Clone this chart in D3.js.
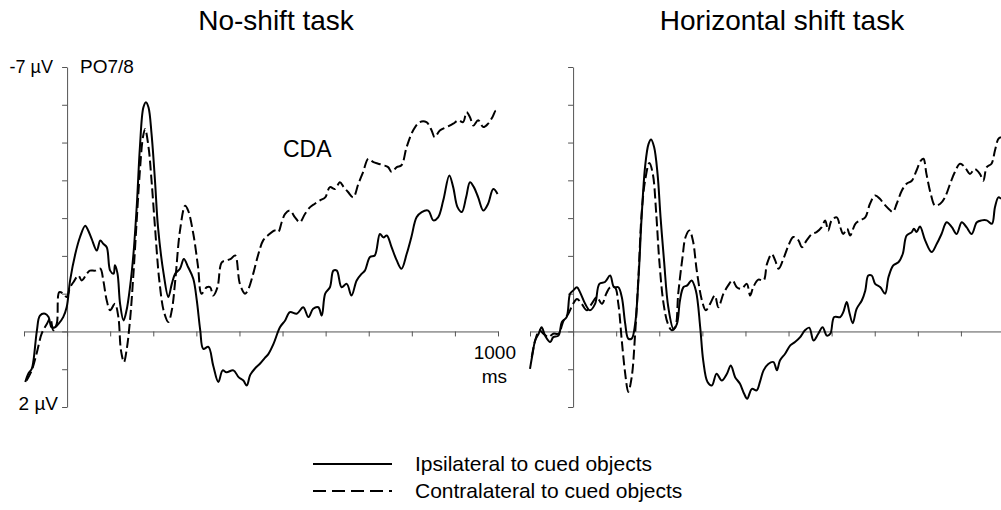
<!DOCTYPE html>
<html>
<head>
<meta charset="utf-8">
<script src="https://cdn.jsdelivr.net/npm/d3@7"></script>
<style>
  html, body { margin: 0; padding: 0; background: #fff; }
  svg { display: block; font-family: "Liberation Sans", Arial, Helvetica, sans-serif; }
  .axis path, .axis line { stroke: #555; stroke-width: 1; }
  .wave { fill: none; stroke: #000; stroke-width: 2; stroke-linejoin: round; }
  .dash { stroke-dasharray: 10 4; }
</style>
</head>
<body>
<svg id="chart" width="1001" height="510"></svg>
<script>
/* ERP waveforms at PO7/8: ipsi vs contra, two tasks. */

const panelTitles = ["No-shift task", "Horizontal shift task"];
const seriesLabels = ["Ipsilateral to cued objects", "Contralateral to cued objects"];
const xTicks = [-100, 0, 100, 200, 300, 400, 500, 600, 700, 800, 900, 1000];
const yTicks = [-7, -6, -5, -4, -3, -2, -1, 0, 1, 2];

// [ms, µV]  (negative plotted up)
const noShiftIpsi = [
  [-97,1.34],[-90,1.12],[-82,0.99],[-78,0.77],[-70,-0.03],[-63,-0.42],[-51,-0.47],[-43,-0.38],
  [-36,-0.11],[-28,-0.11],[-20,-0.2],[-9,-0.38],[-1,-0.64],[7,-1.35],[19,-2.05],[30,-2.5],
  [42,-2.8],[49,-2.67],[57,-2.45],[69,-2.14],[77,-2.41],[84,-2.32],[92,-2.23],[100,-1.61],
  [108,-1.53],[111,-1.75],[117,-1.53],[123,-0.73],[131,-0.29],[138,-0.56],[146,-1.17],
  [154,-2.05],[162,-3.38],[169,-4.88],[177,-5.93],[183,-6.07],[189,-5.93],[196,-5.23],
  [204,-3.99],[211,-2.76],[224,-1.53],[235,-0.91],[243,-1.26],[251,-1.53],[262,-1.66],
  [271,-1.92],[281,-1.7],[293,-1.39],[301,-0.82],[309,-0.03],[316,0.46],[328,0.41],[339,0.9],
  [351,1.34],[361,1.03],[370,1.08],[386,1.03],[398,1.21],[409,1.3],[417,1.43],[425,1.15],
  [436,0.98],[448,0.85],[459,0.7],[467,0.6],[479,0.33],[494,-0.11],[506,-0.29],[517,-0.51],
  [533,-0.47],[548,-0.64],[560,-0.38],[571,-0.6],[583,-0.64],[591,-0.42],[599,-1.0],
  [610,-1.17],[618,-1.61],[626,-1.61],[637,-1.17],[649,-1.26],[660,-0.95],[672,-1.35],
  [684,-1.53],[691,-1.61],[703,-1.97],[714,-2.01],[726,-2.58],[734,-2.49],[742,-2.54],
  [753,-2.23],[765,-1.88],[776,-1.66],[788,-2.05],[799,-2.5],[811,-3.02],[823,-3.16],
  [838,-3.2],[850,-2.94],[861,-3.02],[873,-3.47],[887,-4.13],[896,-3.82],[906,-3.29],
  [916,-3.16],[926,-3.55],[935,-3.95],[944,-3.82],[954,-3.55],[966,-3.2],[977,-3.38],
  [989,-3.77],[999,-3.64]
];

const noShiftContra = [
  [-94,1.3],[-82,1.03],[-70,0.55],[-59,0.06],[-47,-0.2],[-39,-0.34],[-32,-0.03],[-24,-0.2],
  [-18,-1.04],[-9,-1.0],[-1,-0.91],[7,-1.17],[15,-1.31],[26,-1.48],[34,-1.35],[46,-1.53],
  [53,-1.61],[65,-1.61],[77,-1.66],[84,-1.35],[92,-0.82],[100,-0.56],[111,-0.73],[119,-0.38],
  [125,0.5],[132,0.81],[138,0.5],[146,-0.29],[154,-1.53],[162,-3.02],[169,-4.26],[176,-5.14],
  [181,-5.36],[189,-4.88],[196,-3.99],[204,-2.76],[214,-1.35],[225,-0.51],[235,-0.25],
  [243,-0.56],[251,-1.35],[262,-2.67],[274,-3.33],[281,-3.2],[293,-2.58],[304,-1.7],
  [312,-1.0],[324,-1.17],[332,-1.17],[339,-0.95],[349,-1.17],[359,-1.83],[370,-1.88],
  [380,-1.92],[390,-2.01],[401,-1.26],[413,-1.0],[421,-1.13],[432,-1.53],[444,-2.05],
  [455,-2.41],[467,-2.55],[482,-2.67],[490,-2.63],[498,-2.89],[506,-3.11],[517,-3.2],
  [529,-3.02],[540,-2.89],[552,-3.11],[564,-3.29],[575,-3.38],[587,-3.47],[599,-3.55],
  [610,-3.82],[622,-3.77],[633,-3.95],[642,-3.82],[652,-3.69],[664,-3.55],[676,-3.91],
  [687,-4.22],[699,-4.57],[711,-4.48],[722,-4.44],[734,-4.4],[745,-4.35],[753,-4.22],
  [765,-4.35],[776,-4.4],[788,-4.88],[803,-5.32],[818,-5.54],[834,-5.54],[846,-5.32],
  [853,-5.14],[865,-5.32],[881,-5.41],[896,-5.5],[908,-5.59],[919,-5.54],[927,-5.8],
  [935,-5.67],[943,-5.45],[954,-5.59],[966,-5.41],[977,-5.5],[987,-5.67],[995,-5.85],[998,-5.8]
];

const shiftIpsi = [
  [-100,0.99],[-94,0.59],[-88,0.24],[-80,0.06],[-73,-0.11],[-65,0.11],[-53,0.28],[-46,0.15],
  [-34,0.11],[-26,-0.25],[-15,-0.38],[-7,-1.0],[0,-1.08],[9,-1.17],[16,-1.04],[28,-0.73],
  [39,-0.56],[51,-0.73],[61,-1.26],[74,-1.31],[86,-1.48],[95,-1.17],[105,-1.17],[113,-0.91],
  [121,-0.2],[128,0.19],[136,0.19],[144,-0.2],[152,-1.44],[159,-3.02],[167,-4.35],[175,-4.96],
  [181,-5.08],[188,-4.88],[196,-4.17],[203,-3.02],[211,-1.88],[221,-0.64],[233,-0.07],
  [241,-0.2],[248,-0.82],[256,-1.17],[265,-1.22],[275,-1.35],[285,-1.08],[295,-0.11],
  [302,0.77],[312,1.34],[322,1.43],[333,1.12],[345,1.3],[357,1.12],[366,0.9],[376,1.21],
  [387,1.38],[397,1.65],[404,1.78],[415,1.52],[426,1.56],[434,1.32],[442,1.03],[453,0.86],
  [465,0.81],[473,1.03],[480,0.77],[492,0.59],[504,0.37],[515,0.28],[527,0.15],[538,-0.03],
  [548,-0.1],[558,0.24],[569,0.06],[579,-0.11],[589,0.11],[597,0.06],[606,-0.38],[620,-0.38],
  [627,-0.51],[635,-0.78],[641,-0.51],[649,-0.22],[658,-0.6],[670,-0.82],[678,-1.08],
  [685,-1.48],[693,-1.48],[701,-1.26],[713,-1.17],[724,-1.0],[732,-1.44],[743,-1.75],
  [755,-1.83],[765,-2.05],[774,-2.54],[786,-2.63],[791,-2.72],[797,-2.63],[805,-2.78],
  [817,-2.41],[832,-2.1],[844,-2.32],[855,-2.58],[867,-2.89],[879,-2.76],[890,-2.58],
  [902,-2.89],[913,-2.76],[925,-2.58],[937,-2.89],[948,-2.94],[960,-2.94],[972,-2.85],
  [979,-3.29],[987,-3.55],[993,-3.51]
];

const shiftContra = [
  [-96,0.68],[-88,0.24],[-78,-0.03],[-69,0.06],[-57,0.15],[-46,0.06],[-34,0.06],[-22,-0.29],
  [-11,-0.47],[0,-0.73],[9,-0.86],[20,-0.73],[32,-0.56],[43,-0.73],[55,-0.91],[67,-0.73],
  [77,-1.0],[86,-1.17],[97,-1.17],[105,-0.73],[113,0.24],[121,1.12],[128,1.6],[136,1.21],
  [144,0.06],[152,-1.53],[159,-3.11],[167,-3.99],[177,-4.46],[185,-4.17],[193,-3.11],
  [200,-1.88],[210,-0.73],[220,-0.2],[229,-0.03],[237,-0.11],[244,-1.0],[254,-1.97],
  [261,-2.5],[270,-2.67],[278,-2.41],[287,-1.61],[299,-0.82],[308,-0.56],[318,-0.73],
  [329,-0.95],[337,-0.64],[349,-1.0],[360,-1.22],[370,-1.35],[380,-1.17],[391,-1.13],
  [403,-1.26],[411,-0.95],[418,-1.17],[430,-1.37],[442,-1.35],[450,-1.79],[461,-2.05],
  [469,-1.88],[477,-1.66],[488,-1.92],[500,-2.28],[511,-2.5],[523,-2.41],[531,-2.23],
  [542,-2.41],[554,-2.58],[565,-2.63],[577,-2.76],[585,-2.94],[592,-2.67],[600,-2.94],
  [612,-3.02],[620,-2.76],[627,-2.58],[636,-2.72],[643,-2.54],[655,-2.85],[666,-2.94],
  [678,-3.02],[689,-3.38],[701,-3.6],[712,-3.51],[721,-3.38],[732,-3.25],[742,-3.16],
  [751,-3.38],[763,-3.73],[774,-3.91],[786,-3.99],[797,-4.26],[807,-4.52],[813,-4.57],
  [820,-4.17],[830,-3.64],[840,-3.33],[852,-3.38],[863,-3.55],[875,-3.91],[886,-4.22],
  [898,-4.44],[909,-4.35],[921,-4.17],[932,-4.3],[944,-4.17],[952,-3.99],[960,-4.35],
  [971,-4.44],[979,-4.79],[987,-5.1],[993,-5.14]
];

const panels = [
  { title: panelTitles[0], ipsi: noShiftIpsi, contra: noShiftContra, dx: 0, labels: true },
  { title: panelTitles[1], ipsi: shiftIpsi, contra: shiftContra, dx: 506, labels: false },
];

const svg = d3.select("#chart");

const x = d3.scaleLinear().domain([-100, 1000]).range([24, 498]);
const y = d3.scaleLinear().domain([-7, 2]).range([67, 407]);

const line = d3.line()
  .x((d) => x(d[0]))
  .y((d) => y(d[1]))
  .curve(d3.curveCatmullRom.alpha(0.5));

panels.forEach((p) => {
  const g = svg.append("g").attr("transform", `translate(${p.dx},0)`);

  g.append("text")
    .attr("x", x(-100) + (x(1000) - x(-100)) / 2 + 15)
    .attr("y", 30)
    .attr("text-anchor", "middle")
    .attr("font-size", 28)
    .text(p.title);

  // y axis at 0 ms
  g.append("g")
    .attr("class", "axis")
    .attr("transform", `translate(${x(0)},0)`)
    .call(d3.axisLeft(y).tickValues(yTicks).tickSize(5).tickSizeOuter(0).tickFormat(""))
    .call((a) => a.selectAll("text").remove());

  // x axis along 0 µV
  g.append("g")
    .attr("class", "axis")
    .attr("transform", `translate(0,${y(0)})`)
    .call(d3.axisBottom(x).tickValues(xTicks).tickSize(5).tickSizeOuter(0).tickFormat(""))
    .call((a) => a.selectAll("text").remove());

  g.append("path").datum(p.contra).attr("class", "wave dash").attr("d", line);
  g.append("path").datum(p.ipsi).attr("class", "wave").attr("d", line);

  if (p.labels) {
    g.append("text").attr("x", 53).attr("y", y(-7) + 6).attr("text-anchor", "end")
      .attr("font-size", 18).text("-7 µV");
    g.append("text").attr("x", 80).attr("y", y(-7) + 6)
      .attr("font-size", 19).text("PO7/8");
    g.append("text").attr("x", 58).attr("y", y(2) + 3).attr("text-anchor", "end")
      .attr("font-size", 19).text("2 µV");
    g.append("text").attr("x", 283).attr("y", 157)
      .attr("font-size", 23).text("CDA");
    g.append("text").attr("x", x(1000) + 18).attr("y", 359).attr("text-anchor", "end")
      .attr("font-size", 19).text("1000");
    g.append("text").attr("x", x(1000) + 9).attr("y", 383).attr("text-anchor", "end")
      .attr("font-size", 19).text("ms");
  }
});

// legend
const legend = svg.append("g");
seriesLabels.forEach((lab, i) => {
  const ly = 464 + i * 27;
  legend.append("line")
    .attr("x1", 313).attr("x2", 392).attr("y1", ly).attr("y2", ly)
    .attr("stroke", "#000").attr("stroke-width", 2)
    .attr("stroke-dasharray", i === 1 ? "13 6" : null);
  legend.append("text").attr("x", 415).attr("y", ly + 7)
    .attr("font-size", 21).text(lab);
});
</script>
</body>
</html>
